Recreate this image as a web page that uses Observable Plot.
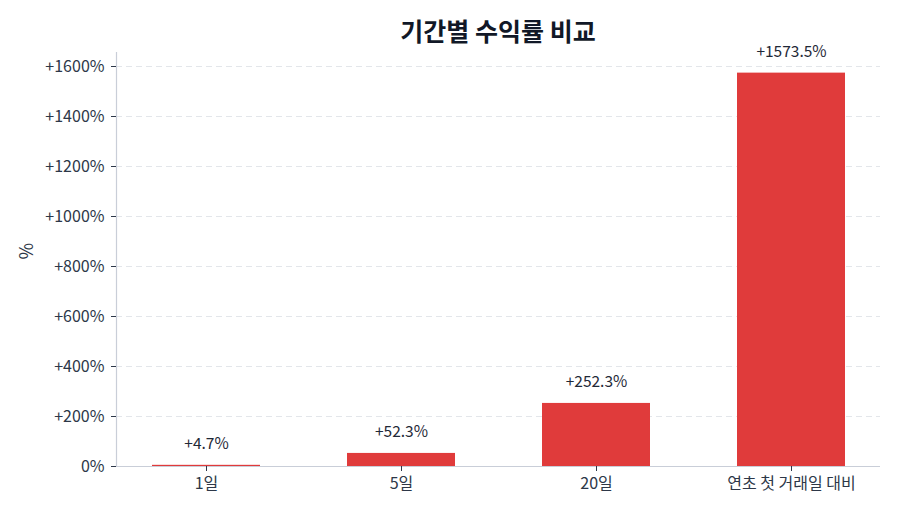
<!DOCTYPE html>
<html>
<head>
<meta charset="utf-8">
<script src="https://cdn.jsdelivr.net/npm/d3@7"></script>
<script src="https://cdn.jsdelivr.net/npm/@observablehq/plot@0.6"></script>
<style>
  html, body { margin: 0; padding: 0; background: #fff; }
  body { width: 900px; height: 514px; overflow: hidden; font-family: "Noto Sans CJK KR", "Noto Sans", sans-serif; }
  #title {
    box-sizing: border-box; height: 30px; padding: 17px 20px 0 116px;
    font-size: 25px; line-height: 26px; font-weight: bold; text-align: center; color: #111827;
    white-space: nowrap;
  }
  svg { display: block; }
</style>
</head>
<body>
<div id="title">기간별 수익률 비교</div>
<div id="chart"></div>
<script>
const categories = ["1일", "5일", "20일", "연초 첫 거래일 대비"];
const values = [4.7, 52.3, 252.3, 1573.5];
const yTicks = [0, 200, 400, 600, 800, 1000, 1200, 1400, 1600];

const data = categories.map((c, i) => ({ period: c, value: values[i] }));
const fmtTick = d => (d > 0 ? "+" : "") + d + "%";
const fmtVal = d => (d >= 0 ? "+" : "") + d.toFixed(1) + "%";

const chart = Plot.plot({
  width: 900,
  height: 484,
  marginLeft: 116,
  marginRight: 20,
  marginTop: 22,
  marginBottom: 48,
  style: { fontFamily: "'Noto Sans CJK KR', 'Noto Sans', sans-serif", fontSize: "16px", color: "#2d3748", background: "#fff" },
  x: { domain: categories, paddingInner: 0.448, paddingOuter: 0.178, label: null },
  y: { domain: [0, 1656], label: null },
  marks: [
    Plot.ruleY(yTicks.slice(1), { stroke: "#e3e6ea", strokeWidth: 1, strokeDasharray: "6,4" }),
    Plot.ruleY([0], { stroke: "#c9ced8", strokeWidth: 1.2 }),
    Plot.frame({ anchor: "left", stroke: "#c9ced8", strokeWidth: 1.2 }),
    Plot.barY(data, { x: "period", y: "value", fill: "#e03b3b" }),
    Plot.text(data, { x: "period", y: "value", text: d => fmtVal(d.value), dy: -21, fontSize: 15.5, fill: "#1f2937" }),
    Plot.axisY({ ticks: yTicks, tickFormat: fmtTick, tickSize: 5, tickPadding: 7, fontSize: 16, fill: "#2d3748", stroke: "#2d3748", label: null }),
    Plot.axisX({ tickSize: 5, tickPadding: 6, fontSize: 16, fill: "#2d3748", stroke: "#2d3748", label: null }),
    Plot.text(["%"], { frameAnchor: "left", dx: -89, rotate: -90, fontSize: 18, fill: "#2d3748" })
  ]
});
document.getElementById("chart").appendChild(chart);
</script>
</body>
</html>
